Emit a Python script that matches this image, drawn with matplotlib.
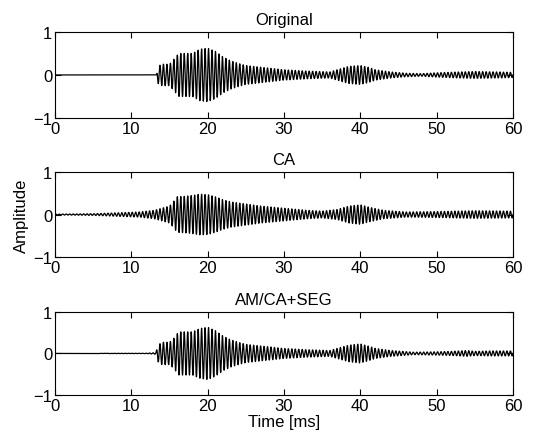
import numpy as np
import matplotlib
matplotlib.use("Agg")
import matplotlib.pyplot as plt

plt.rcParams['font.family'] = ['Liberation Sans', 'DejaVu Sans']
plt.rcParams['font.size'] = 12

# envelope control points (time in ms, amplitude)
env_t_orig = [0, 13.3, 13.5, 14, 15, 15.5, 16.2, 17, 18, 19, 20, 21, 22, 23, 24, 25, 27, 30, 33, 36,
              37.5, 38.5, 40, 41, 42, 44, 46, 48, 50, 53, 55, 58, 60]
env_a_orig = [0, 0, 0.2, 0.25, 0.25, 0.35, 0.5, 0.5, 0.5, 0.6, 0.62, 0.55, 0.42, 0.33, 0.27, 0.22, 0.18,
              0.12, 0.09, 0.07, 0.15, 0.2, 0.22, 0.18, 0.12, 0.07, 0.04, 0.03, 0.05, 0.07, 0.08, 0.07, 0.06]

env_t_ca = [0, 5, 8, 11, 13, 14, 15, 15.5, 16, 17, 18, 19, 20, 21, 22, 23, 25, 27, 30, 33, 35,
            37, 38.5, 40, 41, 43, 46, 50, 55, 60]
env_a_ca = [0.01, 0.02, 0.04, 0.06, 0.1, 0.15, 0.2, 0.3, 0.42, 0.43, 0.45, 0.48, 0.47, 0.42, 0.35,
            0.3, 0.25, 0.2, 0.15, 0.1, 0.08, 0.12, 0.2, 0.23, 0.18, 0.1, 0.06, 0.07, 0.09, 0.08]

env_t_seg = [0, 12, 13.2, 13.5, 14, 15, 15.5, 16.2, 17, 18, 19, 20, 21, 22, 23, 24, 25, 27, 30, 33,
             36, 37.5, 38.5, 40, 41, 42, 44, 47, 50, 52, 54, 55, 57, 60]
env_a_seg = [0, 0.005, 0.02, 0.2, 0.27, 0.27, 0.35, 0.52, 0.52, 0.52, 0.6, 0.63, 0.55, 0.42, 0.33,
             0.27, 0.22, 0.18, 0.12, 0.09, 0.07, 0.15, 0.2, 0.23, 0.18, 0.12, 0.07, 0.03, 0.04, 0.05,
             0.07, 0.05, 0.06, 0.06]

carrier_khz = 2.2
titles = ["Original", "CA", "AM/CA+SEG"]

t = np.linspace(0, 60, 6000)
carrier = np.sin(2 * np.pi * carrier_khz * t)
signals = [np.interp(t, env_t_orig, env_a_orig) * carrier,
           np.interp(t, env_t_ca, env_a_ca) * carrier,
           np.interp(t, env_t_seg, env_a_seg) * carrier]

fig = plt.figure(figsize=(5.42, 4.35), dpi=100)
boxes = [[0.1015, 0.7264, 0.845, 0.198],
         [0.1015, 0.407, 0.845, 0.195],
         [0.1015, 0.0897, 0.845, 0.191]]

for box, sig, title in zip(boxes, signals, titles):
    ax = fig.add_axes(box)
    ax.plot(t, sig, color='black', linewidth=0.9)
    ax.set_xlim(0, 60)
    ax.set_ylim(-1, 1)
    ax.set_xticks([0, 10, 20, 30, 40, 50, 60])
    ax.set_yticks([-1, 0, 1])
    ax.set_yticklabels(['\u22121', '0', '1'])
    ax.tick_params(direction='in', top=True, right=True, length=4, pad=2)
    ax.set_title(title, fontsize=12, pad=6)
    for s in ax.spines.values():
        s.set_linewidth(0.8)
    if title == "CA":
        ax.set_ylabel("Amplitude", labelpad=3)
    if title == "AM/CA+SEG":
        ax.set_xlabel("Time [ms]", labelpad=1)

fig.savefig("out.png", dpi=100)
